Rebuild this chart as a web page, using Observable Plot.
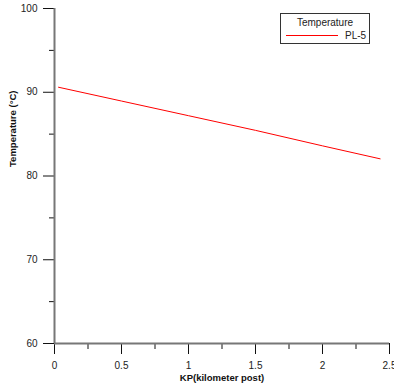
<!DOCTYPE html>
<html><head><meta charset="utf-8">
<script src="https://cdn.jsdelivr.net/npm/d3@7"></script>
<script src="https://cdn.jsdelivr.net/npm/@observablehq/plot@0.6"></script>
<style>
body{margin:0;background:#fff;font-family:"Liberation Sans",Arial,sans-serif;}
#wrap{position:relative;width:394px;height:385px;}
#legend{position:absolute;left:280px;top:13px;width:88px;height:29px;border:1px solid #333;background:#fff;font-size:10px;color:#222;}
</style></head>
<body><div id="wrap"><div id="legend"></div></div>
<script>
const kp = [0.03, 0.5, 1.0, 1.5, 2.0, 2.43];
const temp = [90.6, 88.95, 87.2, 85.45, 83.6, 82.05];
const seriesName = "PL-5";
const legendTitle = "Temperature";
const xTicks = [0, 0.5, 1, 1.5, 2, 2.5];
const xMinor = [0.25, 0.75, 1.25, 1.75, 2.25];
const yTicks = [60, 70, 80, 90, 100];
const yMinor = [65, 75, 85, 95];

const data = kp.map((k, i) => ({kp: k, t: temp[i]}));

const chart = Plot.plot({
  width: 394, height: 385,
  marginLeft: 54, marginRight: 5, marginTop: 8, marginBottom: 42,
  style: {fontFamily: "Liberation Sans, Arial, sans-serif", fontSize: "10px", color: "#222", background: "#fff"},
  x: {domain: [0, 2.5]},
  y: {domain: [60, 100]},
  marks: [
    Plot.axisY({ticks: yTicks, tickSize: 11, tickPadding: 6, label: null, stroke: "#111"}),
    Plot.axisY({ticks: yMinor, tickSize: 5, tickFormat: () => "", label: null, stroke: "#111"}),
    Plot.axisX({ticks: xTicks, tickSize: 11, tickPadding: 7, label: null, stroke: "#111", tickFormat: d => String(d)}),
    Plot.axisX({ticks: xMinor, tickSize: 6, tickFormat: () => "", label: null, stroke: "#111"}),
    Plot.ruleX([0], {stroke: "#777", strokeWidth: 2}),
    Plot.ruleY([60], {stroke: "#777", strokeWidth: 2}),
    Plot.line(data, {x: "kp", y: "t", stroke: "#ff0000", strokeWidth: 1}),
    Plot.text(["KP(kilometer post)"], {frameAnchor: "bottom", dy: 37, fontWeight: "bold", fontSize: 9.5, fill: "#111"}),
    Plot.text(["Temperature (°C)"], {frameAnchor: "left", dx: -42, dy: -9, rotate: -90, fontWeight: "bold", fontSize: 9.5, fill: "#111"})
  ]
});
document.getElementById("wrap").prepend(chart);

const lg = document.getElementById("legend");
lg.innerHTML = `<div style="position:absolute;left:0;right:0;top:3px;text-align:center;">${legendTitle}</div>
<div style="position:absolute;left:5px;top:21px;width:52px;height:0;border-top:1.5px solid #ff0000;"></div>
<div style="position:absolute;left:64px;top:16px;">${seriesName}</div>`;
</script>
</body></html>
